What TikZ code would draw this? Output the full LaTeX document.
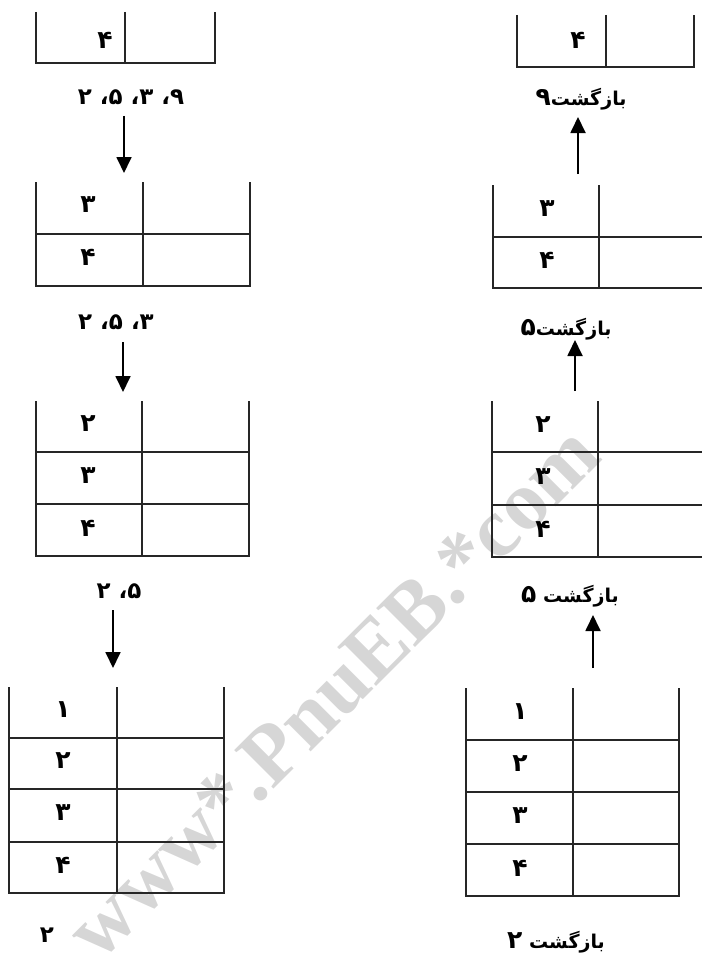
\documentclass[tikz,border=0pt]{standalone}
\usepackage{fontspec}
\usetikzlibrary{arrows.meta}
\TeXXeTstate=1
\newfontfamily\fa[Script=Arabic]{DejaVu Sans}
\newfontfamily\wmfont{Liberation Serif}

\tikzset{
  grid/.style={line width=1.2pt, black!85},
  cell/.style={font=\fa\bfseries\fontsize{25}{28}\selectfont, inner sep=0pt, anchor=center},
  lbl/.style={font=\fa\bfseries\fontsize{23}{26}\selectfont, inner sep=0pt, anchor=center},
  wordlbl/.style={font=\fa\bfseries\fontsize{19}{24}\selectfont, inner sep=0pt, anchor=center},
  flow/.style={line width=1.8pt, -{Triangle[width=15pt,length=16pt]}},
}

\newcommand{\fatext}[1]{\beginR #1\endR}
% a larger digit inside a word label
\newcommand{\bigdg}[1]{{\fontsize{25}{28}\selectfont #1}}

\begin{document}
\begin{tikzpicture}[x=1pt, y=-1pt]
\useasboundingbox (0,0) rectangle (702,963);

% watermark, behind everything
\node[font=\wmfont\bfseries\fontsize{84}{84}\selectfont, text=black!16,
      rotate=45, anchor=base, inner sep=0pt] (wm) at (352,711) {www*.PnuEB.*com};

% ---------- left column: pushing ----------
% L1
\draw[grid] (36,12) -- (36,63) -- (215,63) -- (215,12);
\draw[grid] (125,12) -- (125,63);
\node[cell] (l1a) at (105,40) {\fatext{۴}};
\node[lbl] (l1lab) at (131,97) {\fatext{۹، ۳، ۵، ۲}};
\coordinate (a1s) at (124,116);
\coordinate (a1e) at (124,173);
\draw[flow] (a1s) -- (a1e);

% L2
\draw[grid] (36,182) -- (36,286) -- (250,286) -- (250,182);
\draw[grid] (143,182) -- (143,286);
\draw[grid] (36,234) -- (250,234);
\node[cell] (l2a) at (88,205) {\fatext{۳}};
\node[cell] (l2b) at (88,257) {\fatext{۴}};
\node[lbl] (l2lab) at (116,322) {\fatext{۳، ۵، ۲}};
\coordinate (a2s) at (123,342);
\coordinate (a2e) at (123,392);
\draw[flow] (a2s) -- (a2e);

% L3
\draw[grid] (36,401) -- (36,556) -- (249,556) -- (249,401);
\draw[grid] (142,401) -- (142,556);
\draw[grid] (36,452) -- (249,452);
\draw[grid] (36,504) -- (249,504);
\node[cell] (l3a) at (88,424) {\fatext{۲}};
\node[cell] (l3b) at (88,476) {\fatext{۳}};
\node[cell] (l3c) at (88,528) {\fatext{۴}};
\node[lbl] (l3lab) at (119,591) {\fatext{۵، ۲}};
\coordinate (a3s) at (113,610);
\coordinate (a3e) at (113,668);
\draw[flow] (a3s) -- (a3e);

% L4
\draw[grid] (9,687) -- (9,893) -- (224,893) -- (224,687);
\draw[grid] (117,687) -- (117,893);
\draw[grid] (9,738) -- (224,738);
\draw[grid] (9,789) -- (224,789);
\draw[grid] (9,842) -- (224,842);
\node[cell] (l4a) at (63,710) {\fatext{۱}};
\node[cell] (l4b) at (63,761) {\fatext{۲}};
\node[cell] (l4c) at (63,813) {\fatext{۳}};
\node[cell] (l4d) at (63,865) {\fatext{۴}};
\node[lbl] (l4lab) at (47,935) {\fatext{۲}};

% ---------- right column: returning ----------
% R1
\draw[grid] (517,15) -- (517,67) -- (694,67) -- (694,15);
\draw[grid] (606,15) -- (606,67);
\node[cell] (r1a) at (578,40) {\fatext{۴}};
\node[wordlbl] (r1lab) at (581,99) {\fatext{بازگشت\bigdg{۹}}};
\coordinate (b1s) at (578,174);
\coordinate (b1e) at (578,117);
\draw[flow] (b1s) -- (b1e);

% R2 (runs off the right edge)
\draw[grid] (493,185) -- (493,288) -- (702,288);
\draw[grid] (599,185) -- (599,288);
\draw[grid] (493,237) -- (702,237);
\node[cell] (r2a) at (547,209) {\fatext{۳}};
\node[cell] (r2b) at (547,260) {\fatext{۴}};
\node[wordlbl] (r2lab) at (566,329) {\fatext{بازگشت\bigdg{۵}}};
\coordinate (b2s) at (575,391);
\coordinate (b2e) at (575,340);
\draw[flow] (b2s) -- (b2e);

% R3 (runs off the right edge)
\draw[grid] (492,401) -- (492,557) -- (702,557);
\draw[grid] (598,401) -- (598,557);
\draw[grid] (492,452) -- (702,452);
\draw[grid] (492,505) -- (702,505);
\node[cell] (r3a) at (543,425) {\fatext{۲}};
\node[cell] (r3b) at (543,477) {\fatext{۳}};
\node[cell] (r3c) at (543,529) {\fatext{۴}};
\node[wordlbl] (r3lab) at (570,596) {\fatext{بازگشت \bigdg{۵}}};
\coordinate (b3s) at (593,668);
\coordinate (b3e) at (593,615);
\draw[flow] (b3s) -- (b3e);

% R4
\draw[grid] (466,688) -- (466,896) -- (679,896) -- (679,688);
\draw[grid] (573,688) -- (573,896);
\draw[grid] (466,740) -- (679,740);
\draw[grid] (466,792) -- (679,792);
\draw[grid] (466,844) -- (679,844);
\node[cell] (r4a) at (520,712) {\fatext{۱}};
\node[cell] (r4b) at (520,764) {\fatext{۲}};
\node[cell] (r4c) at (520,816) {\fatext{۳}};
\node[cell] (r4d) at (520,868) {\fatext{۴}};
\node[wordlbl] (r4lab) at (556,942) {\fatext{بازگشت \bigdg{۲}}};
\end{tikzpicture}
\end{document}
